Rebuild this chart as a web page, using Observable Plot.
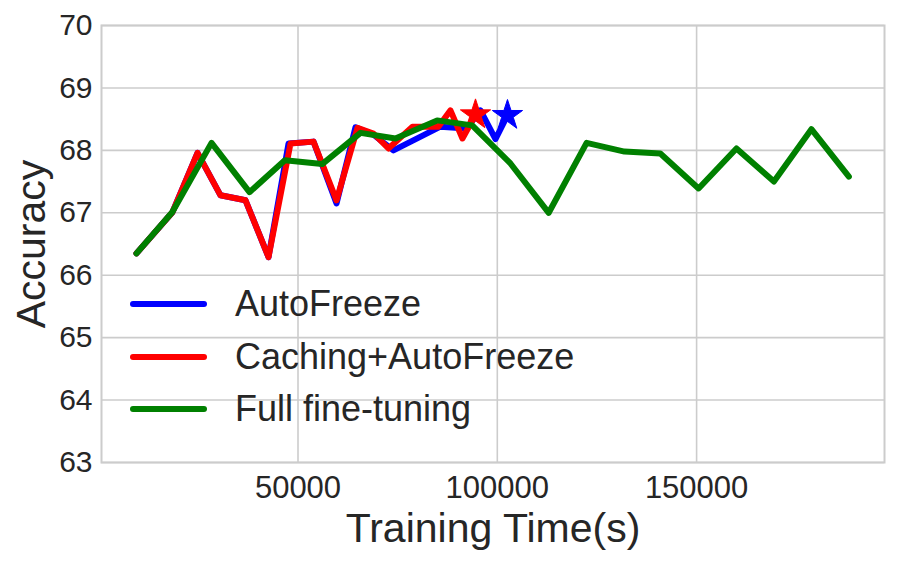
<!DOCTYPE html>
<html>
<head>
<meta charset="utf-8">
<script src="https://cdn.jsdelivr.net/npm/d3@7"></script>
<script src="https://cdn.jsdelivr.net/npm/@observablehq/plot@0.6"></script>
<style>
  html, body { margin: 0; padding: 0; background: white; }
  #wrap { position: relative; width: 899px; height: 562px; font-family: "Liberation Sans", Arial, sans-serif; color: #262626; }
  #legend { position: absolute; left: 130px; top: 278px; }
  .item { display: flex; align-items: center; height: 52.5px; }
  .swatch { width: 77px; height: 6px; border-radius: 3px; margin-right: 28px; }
  .lab { font-size: 36px; line-height: 1; }
</style>
</head>
<body>
<div id="wrap"><div id="legend"></div></div>
<script>
// Series names and colours
const seriesNames = ["AutoFreeze", "Caching+AutoFreeze", "Full fine-tuning"];
const seriesColors = ["#0000ff", "#ff0000", "#008000"];

// AutoFreeze
const autoTime = [9480, 18510, 24790, 30560, 36830, 42600, 47620, 53890, 59660, 64420, 68930, 73950, 85740, 92270, 95780, 99540, 102550];
const autoAcc  = [66.35, 67.01, 67.96, 67.28, 67.20, 66.29, 68.11, 68.14, 67.15, 68.37, 68.25, 68.00, 68.38, 68.35, 68.64, 68.18, 68.56];

// Caching+AutoFreeze
const cacheTime = [9480, 18510, 24790, 30560, 36830, 42600, 48120, 53890, 59660, 64920, 68930, 72690, 78720, 85240, 88250, 91260, 94530];
const cacheAcc  = [66.35, 67.01, 67.96, 67.28, 67.20, 66.29, 68.11, 68.14, 67.20, 68.36, 68.27, 68.03, 68.38, 68.38, 68.64, 68.19, 68.57];

// Full fine-tuning
const fullTime = [9480, 18440, 28300, 37830, 46700, 56070, 65680, 74440, 84900, 93700, 103300, 112900, 122400, 131900, 140900, 150500, 160000, 169400, 178800, 188200];
const fullAcc  = [66.35, 67.01, 68.12, 67.33, 67.84, 67.78, 68.28, 68.19, 68.48, 68.40, 67.79, 67.00, 68.12, 67.98, 67.95, 67.39, 68.03, 67.50, 68.34, 67.58];

// Axis ticks
const xTicks = [50000, 100000, 150000];
const yTicks = [63, 64, 65, 66, 67, 68, 69, 70];
const xLabel = "Training Time(s)";
const yLabel = "Accuracy";

const mk = (ts, as) => ts.map((t, i) => ({t, acc: as[i]}));
const auto = mk(autoTime, autoAcc);
const cache = mk(cacheTime, cacheAcc);
const full = mk(fullTime, fullAcc);

const gridStyle = {stroke: "#cccccc", strokeOpacity: 1, strokeWidth: 1.6};

const chart = Plot.plot({
  width: 899,
  height: 562,
  marginLeft: 101,
  marginRight: 15,
  marginTop: 25,
  marginBottom: 100,
  style: {fontFamily: "'Liberation Sans', Arial, sans-serif", color: "#262626", background: "white"},
  x: {domain: [700, 197140]},
  y: {domain: [63, 70]},
  marks: [
    Plot.gridY(yTicks, gridStyle),
    Plot.gridX(xTicks, gridStyle),
    Plot.frame({stroke: "#cccccc", strokeWidth: 2}),
    Plot.axisY(yTicks, {tickSize: 0, tickPadding: 9, fontSize: 30, label: null, tickFormat: d3.format("d")}),
    Plot.axisX(xTicks, {tickSize: 0, tickPadding: 13, fontSize: 31, label: null, tickFormat: d3.format("d")}),
    Plot.line(auto, {x: "t", y: "acc", stroke: seriesColors[0], strokeWidth: 6, strokeLinejoin: "round", strokeLinecap: "round"}),
    Plot.line(cache, {x: "t", y: "acc", stroke: seriesColors[1], strokeWidth: 6, strokeLinejoin: "round", strokeLinecap: "round"}),
    Plot.dot([cache[cache.length - 1]], {x: "t", y: "acc", symbol: "star", r: 9.5, fill: seriesColors[1], stroke: seriesColors[1], strokeWidth: 1}),
    Plot.dot([auto[auto.length - 1]], {x: "t", y: "acc", symbol: "star", r: 9.5, fill: seriesColors[0], stroke: seriesColors[0], strokeWidth: 1}),
    Plot.line(full, {x: "t", y: "acc", stroke: seriesColors[2], strokeWidth: 6, strokeLinejoin: "round", strokeLinecap: "round"}),
    Plot.text([xLabel], {frameAnchor: "bottom", textAnchor: "middle", lineAnchor: "middle", dy: 66, fontSize: 41, fill: "#262626"}),
    Plot.text([yLabel], {frameAnchor: "left", textAnchor: "middle", lineAnchor: "middle", rotate: -90, dx: -70, fontSize: 41, fill: "#262626"})
  ]
});

const wrap = document.getElementById("wrap");
wrap.insertBefore(chart, wrap.firstChild);

const legend = document.getElementById("legend");
seriesNames.forEach((name, i) => {
  const item = document.createElement("div");
  item.className = "item";
  const sw = document.createElement("div");
  sw.className = "swatch";
  sw.style.background = seriesColors[i];
  const lab = document.createElement("span");
  lab.className = "lab";
  lab.textContent = name;
  item.appendChild(sw);
  item.appendChild(lab);
  legend.appendChild(item);
});
</script>
</body>
</html>
